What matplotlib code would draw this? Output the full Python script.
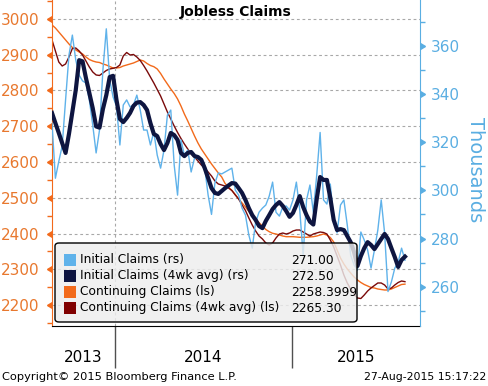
import matplotlib
matplotlib.use('Agg')
import matplotlib.pyplot as plt
import matplotlib.dates as mdates
from matplotlib.markers import CARETLEFTBASE, CARETRIGHTBASE
from matplotlib.patches import FancyBboxPatch, Rectangle
from matplotlib.ticker import MultipleLocator, FixedLocator, FixedFormatter, NullFormatter
import pandas as pd

# ---------------- data ----------------
dates = pd.date_range('2013-08-24', periods=105, freq='7D')

initial_claims = [
    327.9, 305.0, 312.0, 318.4, 337.5, 356.1, 364.4, 354.1, 347.8, 345.4,
    344.5, 337.5, 327.1, 315.5, 325.0, 349.9, 367.0, 345.8, 338.7, 335.0,
    318.8, 335.4, 337.5, 334.6, 335.4, 339.5, 333.3, 325.0, 325.0, 318.8,
    324.2, 314.6, 309.2, 316.7, 331.2, 333.3, 310.5, 298.0, 320.9, 314.6,
    316.7, 307.6, 313.4, 313.4, 312.6, 309.2, 298.0, 290.0, 303.0, 307.2,
    306.8, 307.6, 308.4, 309.2, 300.1, 298.0, 292.6, 289.7, 281.4, 276.0,
    286.8, 290.9, 292.6, 293.9, 297.6, 303.4, 290.9, 289.3, 293.1, 293.5,
    291.8, 296.0, 303.4, 291.8, 273.0, 296.0, 302.2, 290.9, 306.3, 324.0,
    296.0, 294.3, 302.6, 287.7, 282.3, 293.9, 296.0, 285.6, 273.1, 269.0,
    266.9, 282.7, 279.4, 275.2, 267.7, 275.2, 283.5, 296.0, 282.3, 258.0,
    262.0, 267.7, 270.2, 276.0, 271.0]

initial_claims_4wk = [
    332.1, 327.9, 323.8, 319.6, 315.5, 323.4, 332.5, 341.6, 354.0, 353.5,
    346.6, 340.4, 334.1, 326.5, 326.0, 333.7, 339.5, 347.0, 347.5, 337.5,
    329.6, 328.3, 330.0, 332.1, 335.0, 336.4, 336.6, 335.4, 333.3, 327.9,
    323.4, 322.5, 319.2, 316.7, 319.6, 323.8, 322.9, 320.9, 315.5, 314.2,
    315.5, 315.9, 314.2, 313.8, 312.6, 309.2, 305.1, 300.9, 298.9, 298.5,
    299.7, 300.9, 302.0, 303.0, 302.8, 300.9, 298.9, 296.0, 292.6, 289.7,
    287.7, 285.2, 284.3, 287.3, 289.7, 292.2, 293.9, 295.1, 293.5, 291.4,
    289.0, 290.6, 293.9, 297.6, 293.1, 289.7, 287.0, 285.8, 296.4, 305.5,
    304.3, 304.3, 296.8, 287.7, 283.5, 283.9, 283.5, 281.0, 278.5, 274.4,
    268.6, 272.7, 276.0, 278.5, 277.3, 275.6, 277.7, 279.8, 281.9, 279.8,
    276.0, 272.3, 268.2, 271.1, 272.5]

continuing_claims = [
    2983.2, 2974.8, 2963.6, 2952.5, 2941.3, 2930.1, 2920.3, 2913.3, 2907.7, 2902.1,
    2893.7, 2886.7, 2882.5, 2879.7, 2878.3, 2874.1, 2871.3, 2867.1, 2862.9, 2862.9,
    2864.3, 2868.5, 2871.3, 2874.1, 2876.9, 2881.1, 2885.3, 2882.5, 2875.5, 2869.9,
    2866.6, 2860.2, 2847.6, 2832.2, 2818.2, 2804.2, 2791.6, 2776.2, 2756.7, 2734.3,
    2714.7, 2693.7, 2672.7, 2653.2, 2636.4, 2622.4, 2608.4, 2594.4, 2581.8, 2569.3,
    2558.1, 2539.9, 2530.1, 2520.3, 2509.1, 2496.5, 2485.4, 2474.2, 2461.6, 2449.0,
    2439.8, 2430.3, 2421.0, 2411.2, 2405.1, 2400.6, 2398.6, 2395.8, 2393.0, 2391.1,
    2391.1, 2391.1, 2390.3, 2389.4, 2389.4, 2389.4, 2390.3, 2391.1, 2393.0, 2395.8,
    2398.6, 2395.8, 2388.8, 2376.3, 2353.9, 2331.5, 2314.7, 2300.8, 2289.6, 2278.4,
    2270.0, 2263.0, 2257.4, 2253.2, 2249.0, 2247.6, 2244.8, 2243.4, 2242.0, 2242.0,
    2244.8, 2249.0, 2253.2, 2257.4, 2258.4]

continuing_claims_4wk = [
    2941.3, 2910.5, 2879.7, 2868.5, 2874.1, 2893.7, 2917.5, 2918.9, 2910.5, 2899.3,
    2882.5, 2865.7, 2851.8, 2843.4, 2842.0, 2849.0, 2856.0, 2860.2, 2862.1, 2864.3,
    2871.3, 2896.5, 2906.3, 2899.3, 2900.7, 2893.7, 2883.9, 2869.9, 2854.6, 2837.8,
    2821.0, 2802.8, 2784.6, 2762.3, 2739.9, 2720.4, 2700.7, 2682.5, 2665.8, 2650.4,
    2636.4, 2622.4, 2614.0, 2602.8, 2591.6, 2583.2, 2572.1, 2560.9, 2546.9, 2538.5,
    2535.7, 2532.9, 2527.3, 2520.3, 2507.7, 2496.5, 2479.8, 2464.4, 2443.4, 2423.8,
    2407.0, 2393.0, 2384.7, 2373.5, 2367.9, 2373.5, 2387.5, 2398.6, 2401.4, 2398.6,
    2401.4, 2407.0, 2409.8, 2409.8, 2404.2, 2398.6, 2393.0, 2398.6, 2401.4, 2404.2,
    2402.8, 2398.6, 2381.8, 2362.3, 2337.1, 2311.9, 2283.9, 2261.6, 2244.8, 2230.8,
    2219.6, 2218.2, 2228.0, 2239.2, 2247.6, 2254.6, 2261.6, 2261.6, 2256.0, 2244.8,
    2247.6, 2256.0, 2263.0, 2267.2, 2265.3]

legend_labels = ['Initial Claims (rs)', 'Initial Claims (4wk avg) (rs)',
                 'Continuing Claims (ls)', 'Continuing Claims (4wk avg) (ls)']
legend_values = ['271.00', '272.50', '2258.3999', '2265.30']
year_labels = ['2013', '2014', '2015']
year_starts = ['2014-01-01', '2015-01-01']

# ---------------- style ----------------
C_LB = '#5FB2EA'
C_NAVY = '#0E1540'
C_OR = '#F26A1B'
C_DR = '#7A0A0A'
C_LTXT = '#E8782E'
C_RTXT = '#5AAEE2'

W, H = 488, 386
def fx(px): return px / W
def fy(py): return 1 - py / H

fig = plt.figure(figsize=(W / 100, H / 100), dpi=100)
ax = fig.add_axes([fx(52), fy(326), (420 - 52) / W, 326 / H])
ax2 = ax.twinx()

x = mdates.date2num(dates)
ax.plot(x, continuing_claims, color=C_OR, lw=1.0)
ax.plot(x, continuing_claims_4wk, color=C_DR, lw=1.0)
ax2.plot(x, initial_claims, color=C_LB, lw=1.0)
ax2.plot(x, initial_claims_4wk, color=C_NAVY, lw=3.0, solid_joinstyle='round')

xl0 = mdates.date2num(pd.Timestamp('2013-08-24'))
xl1 = mdates.date2num(pd.Timestamp('2015-09-22'))
ax.set_xlim(xl0, xl1)
ax.set_ylim(2141.3, 3053.1)
ax2.set_ylim(243.7, 378.96)

# grid
ax.yaxis.set_major_locator(MultipleLocator(100))
ax.yaxis.set_minor_locator(MultipleLocator(50))
ax.yaxis.grid(True, which='major', linestyle=(0, (2.5, 2.5)), color='#A8A8A8', lw=0.8)
ys = [mdates.date2num(pd.Timestamp(d)) for d in year_starts]
ax.axvline(ys[0], linestyle=(0, (2.5, 2.5)), color='#A8A8A8', lw=0.8)

ax2.yaxis.set_major_locator(MultipleLocator(20))
ax2.yaxis.set_minor_locator(MultipleLocator(10))

# spines
for s in ['top', 'right']:
    ax.spines[s].set_visible(False)
for s in ['top', 'left', 'bottom']:
    ax2.spines[s].set_visible(False)
ax.spines['left'].set_color(C_OR)
ax.spines['bottom'].set_color('black')
ax2.spines['right'].set_color(C_RTXT)

ax.tick_params(axis='y', which='major', colors=C_OR, labelcolor=C_LTXT,
               labelsize=11, length=4.5, width=1, pad=4.5)
ax.tick_params(axis='y', which='minor', colors=C_OR, length=3.5, width=1)
ax2.tick_params(axis='y', which='major', colors=C_RTXT, labelcolor=C_RTXT,
                labelsize=11, length=4.5, width=1, pad=3)
ax2.tick_params(axis='y', which='minor', colors=C_RTXT, length=3.5, width=1)

# x axis: separators at year starts, labels centered in each year segment
ax.xaxis.set_major_locator(FixedLocator(ys))
ax.xaxis.set_major_formatter(NullFormatter())
mids = [(xl0 + ys[0]) / 2, (ys[0] + ys[1]) / 2, (ys[1] + xl1) / 2]
ax.xaxis.set_minor_locator(FixedLocator(mids))
ax.xaxis.set_minor_formatter(FixedFormatter(year_labels))
ax.tick_params(axis='x', which='major', length=30, width=1, color='#505050')
ax.tick_params(axis='x', which='minor', length=0, labelsize=11, pad=17)
ax2.tick_params(axis='x', which='both', length=0)

fig.canvas.draw()
for t in ax.yaxis.get_major_ticks():
    t.tick1line.set_marker(CARETLEFTBASE)
for t in ax2.yaxis.get_major_ticks():
    t.tick2line.set_marker(CARETRIGHTBASE)

# title and labels
fig.text(fx(236), fy(12), 'Jobless Claims', ha='center', va='center',
         fontsize=10, fontweight='bold', color='black')
fig.text(fx(476), fy(170), 'Thousands', rotation=270, ha='center', va='center',
         fontsize=14, color=C_RTXT)

# legend box
box = FancyBboxPatch((fx(55), fy(322)), (357 - 55) / W, (322 - 243) / H,
                     boxstyle='round,pad=0,rounding_size=0.008',
                     transform=fig.transFigure, facecolor=(0.93, 0.93, 0.93, 0.82),
                     edgecolor='black', lw=1.0, zorder=10)
fig.add_artist(box)
row_y = [260, 276, 292, 308]
colors = [C_LB, C_NAVY, C_OR, '#800000']
for ry, c, lab, val in zip(row_y, colors, legend_labels, legend_values):
    r = Rectangle((fx(64), fy(ry + 6)), 12 / W, 12 / H, transform=fig.transFigure,
                  facecolor=c, edgecolor='none', zorder=11)
    fig.add_artist(r)
    fig.text(fx(80), fy(ry), lab, va='center', ha='left', fontsize=8.8, zorder=12)
    fig.text(fx(291), fy(ry), val, va='center', ha='left', fontsize=8.8, zorder=12)

# footer
fig.text(fx(2), fy(377), 'Copyright\u00a9 2015 Bloomberg Finance L.P.', va='center',
         ha='left', fontsize=8.2)
fig.text(fx(486), fy(377), '27-Aug-2015 15:17:22', va='center', ha='right', fontsize=7.8)

fig.savefig('out.png', dpi=100)
